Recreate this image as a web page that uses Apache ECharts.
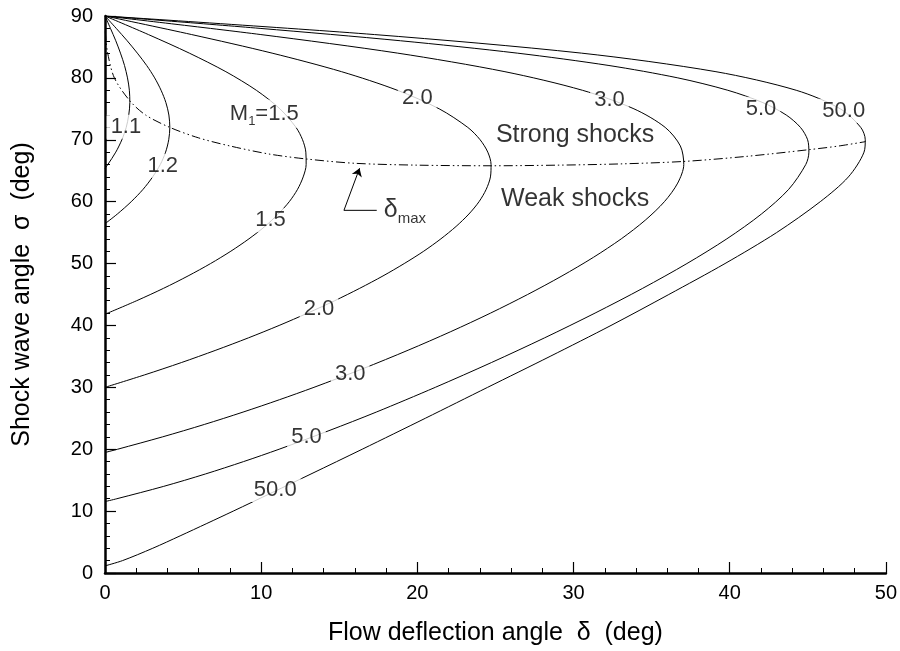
<!DOCTYPE html>
<html><head><meta charset="utf-8">
<script src="https://cdn.jsdelivr.net/npm/echarts@6/dist/echarts.min.js"></script>
<style>html,body{margin:0;padding:0;background:#fff}#c{width:900px;height:651px}</style>
</head><body><div id="c"></div>
<script>
const FONT = '"Liberation Sans", Arial, Helvetica, sans-serif';
const xTitle = 'Flow deflection angle  \u03b4  (deg)';
const yTitle = 'Shock wave angle  \u03c3  (deg)';

// Each curve: [deflection delta (deg), shock angle sigma (deg)], weak branch -> strong branch
const M1_1 = [[0,65.38],[0.18,66],[0.69,68],[1.08,70],[1.36,72],[1.52,74],[1.59,76],[1.56,78],[1.44,80],[1.25,82],[0.99,84],[0.69,86],[0.35,88],[0,90]];
const M1_2 = [[0,56.44],[0.79,58],[1.68,60],[2.44,62],[3.05,64],[3.54,66],[3.88,68],[4.08,70],[4.15,72],[4.09,74],[3.90,76],[3.59,78],[3.18,80],[2.67,82],[2.07,84],[1.42,86],[0.72,88],[0,90]];
const M1_5 = [[0,41.81],[2.03,44],[3.75,46],[5.32,48],[6.76,50],[8.06,52],[9.22,54],[10.24,56],[11.09,58],[11.80,60],[12.33,62],[12.69,64],[12.88,66],[12.86,68],[12.65,70],[12.23,72],[11.20,75],[9.69,78],[7.74,81],[5.40,84],[2.78,87],[0,90]];
const M2_0 = [[0,30],[2.52,32],[4.89,34],[7.10,36],[9.19,38],[11.15,40],[12.98,42],[14.71,44],[16.31,46],[17.80,48],[19.16,50],[20.41,52],[21.51,54],[22.48,56],[23.30,58],[23.95,60],[24.41,62],[24.68,64],[24.72,66],[24.51,68],[24.02,70],[23.23,72],[21.40,75],[18.72,78],[15.15,81],[10.70,84],[5.55,87],[0,90]];
const M3_0 = [[0,19.47],[0.81,20],[3.69,22],[6.36,24],[8.84,26],[11.17,28],[13.38,30],[16.50,33],[19.41,36],[22.14,39],[24.69,42],[27.06,45],[29.26,48],[31.27,51],[33.06,54],[34.59,57],[35.82,60],[36.67,63],[37.06,66],[36.84,69],[35.87,72],[33.87,75],[30.57,78],[25.61,81],[18.74,84],[9.98,87],[0,90]];
const M5_0 = [[0,11.54],[0.76,12],[3.76,14],[6.43,16],[8.87,18],[11.15,20],[14.34,23],[17.37,26],[21.15,30],[24.74,34],[28.15,38],[31.38,42],[34.43,46],[37.26,50],[39.82,54],[42.03,58],[43.78,62],[44.87,66],[45.07,68],[44.99,70],[44.53,72],[43.62,74],[42.13,76],[39.88,78],[36.68,80],[32.27,82],[26.40,84],[18.92,86],[9.93,88],[0,90]];
const M50_0 = [[0,1.15],[1.12,2],[3.06,4],[4.81,6],[6.52,8],[8.21,10],[10.71,13],[13.19,16],[16.47,20],[20.51,25],[24.5,30],[28.5,35],[32.4,40],[36.1,45],[39.7,50],[43.0,55],[45.8,60],[47.6,64],[48.6,68],[48.68,70],[48.39,72],[47.08,75],[44.26,78],[39.12,81],[30.51,84],[17.26,87],[0,90]];
const deltaMax = [[0.02,87.5],[0.15,84.3],[0.6,80.0],[1.59,76.3],[2.6,74.0],[4.15,72.0],[6.0,70.3],[8.0,69.0],[10.5,67.7],[12.88,66.9],[16.0,66.2],[20.0,65.9],[24.72,65.8],[29.0,65.9],[33.0,66.1],[37.06,66.5],[41.0,67.3],[45.07,68.4],[47.0,69.0],[48.7,69.7]];

const curves = [M1_1, M1_2, M1_5, M2_0, M3_0, M5_0, M50_0];

// curve labels: [delta, sigma, text]
const curveLabels = [
  [1.34,72.1,'1.1'],[3.7,65.8,'1.2'],[10.6,57.0,'1.5'],
  [20.0,76.8,'2.0'],[13.7,42.7,'2.0'],
  [32.3,76.5,'3.0'],[15.7,32.2,'3.0'],
  [42.0,75.0,'5.0'],[12.9,22.0,'5.0'],
  [47.3,74.7,'50.0'],[10.9,13.4,'50.0']
];
const machTitleLabel = [10.2,74.2,'{a|M}{b|1}{a|=1.5}'];
const regionLabels = [[30.1,70.7,'Strong shocks'],[30.1,60.4,'Weak shocks']];
const deltaMaxLabel = [19.2,58.6,'{d|\u03b4}{s|max}'];
const arrowLeg = [[17.4,58.6],[15.3,58.6]];
const arrowTip = [16.3,65.4];

const chart = echarts.init(document.getElementById('c'), null, {renderer:'canvas'});

const axisCommon = {
  type:'value',
  axisLine:{show:true, onZero:false, lineStyle:{color:'#000', width:2.5}},
  axisTick:{show:true, inside:true, length:11, lineStyle:{color:'#000', width:1.2}},
  minorTick:{show:true, splitNumber:5, length:5, lineStyle:{color:'#000', width:1}},
  splitLine:{show:false},
  axisLabel:{color:'#000', fontSize:20, fontFamily:FONT},
  nameLocation:'middle',
  nameTextStyle:{color:'#000', fontSize:25, fontFamily:FONT}
};

const series = curves.map(d => ({
  type:'line', data:d, symbol:'none', smooth:0.3, silent:true,
  lineStyle:{color:'#000', width:1}, z:2
}));
series.push({
  type:'line', data:deltaMax, symbol:'none', smooth:0.3, silent:true,
  lineStyle:{color:'#000', width:1, type:[9,3,1.5,3,1.5,3]}, z:2
});
series.push({
  type:'line', data:arrowLeg, symbol:'none', silent:true,
  lineStyle:{color:'#000', width:1}, z:2,
  markLine:{
    silent:true, symbol:['none','arrow'], symbolSize:8,
    label:{show:false},
    lineStyle:{color:'#000', width:1, type:'solid'},
    data:[[{coord:arrowLeg[1]},{coord:arrowTip}]]
  }
});
series.push({
  type:'scatter', data:curveLabels, symbolSize:0, silent:true, z:5,
  label:{show:true, position:'inside', formatter:p=>p.data[2], color:'#000',
    fontSize:22, fontFamily:FONT, backgroundColor:'#fff', padding:[1,4]}
});
series.push({
  type:'scatter', data:[machTitleLabel], symbolSize:0, silent:true, z:5,
  label:{show:true, position:'inside', formatter:p=>p.data[2], backgroundColor:'#fff', padding:[0,4],
    rich:{
      a:{fontSize:22, fontFamily:FONT, color:'#000', lineHeight:28, verticalAlign:'middle'},
      b:{fontSize:13, fontFamily:FONT, color:'#000', lineHeight:13, verticalAlign:'bottom'}
    }}
});
series.push({
  type:'scatter', data:regionLabels, symbolSize:0, silent:true, z:5,
  label:{show:true, position:'inside', formatter:p=>p.data[2], color:'#000', fontSize:25, fontFamily:FONT}
});
series.push({
  type:'scatter', data:[deltaMaxLabel], symbolSize:0, silent:true, z:5,
  label:{show:true, position:'inside', formatter:p=>p.data[2],
    rich:{
      d:{fontSize:25, fontFamily:FONT, color:'#000', lineHeight:32, verticalAlign:'middle'},
      s:{fontSize:15, fontFamily:FONT, color:'#000', lineHeight:15, verticalAlign:'bottom'}
    }}
});

chart.setOption({
  animation:false,
  backgroundColor:'#fff',
  grid:{left:105, right:10, top:16, bottom:70, containLabel:false},
  xAxis:Object.assign({}, axisCommon, {min:0, max:50, interval:10, name:xTitle, nameGap:48,
    axisLabel:Object.assign({}, axisCommon.axisLabel, {margin:10})}),
  yAxis:Object.assign({}, axisCommon, {min:0, max:90, interval:10, name:yTitle, nameGap:70,
    axisLabel:Object.assign({}, axisCommon.axisLabel, {margin:12})}),
  series
});
</script></body></html>
